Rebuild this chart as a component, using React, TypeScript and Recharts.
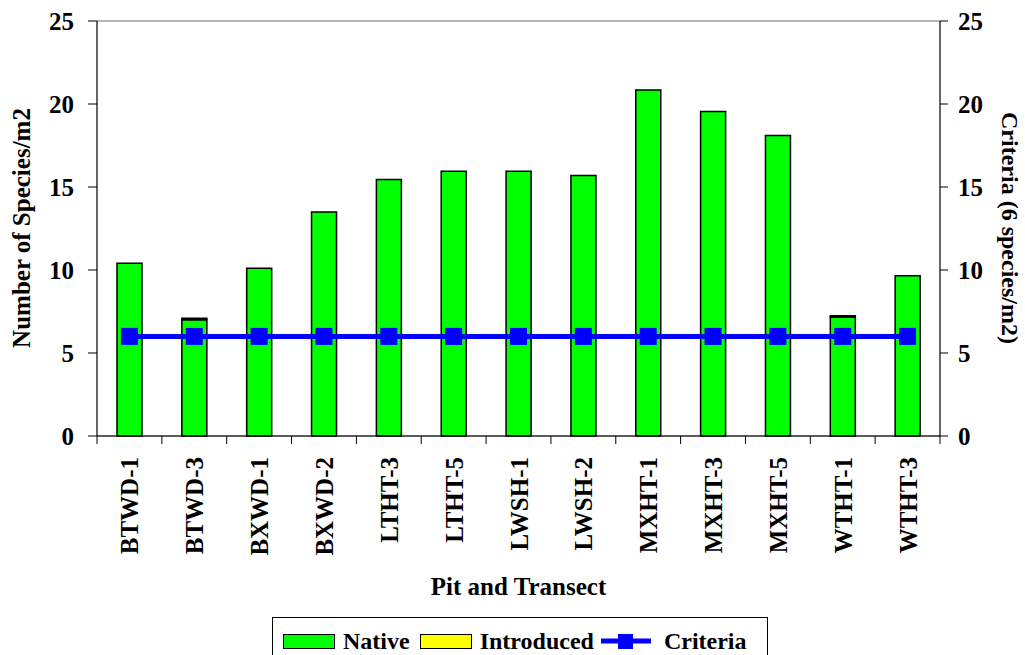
import React from 'react';
import {
  ComposedChart,
  Bar,
  Line,
  XAxis,
  YAxis,
  CartesianGrid,
} from 'recharts';

const categories = [
  'BTWD-1', 'BTWD-3', 'BXWD-1', 'BXWD-2', 'LTHT-3', 'LTHT-5', 'LWSH-1',
  'LWSH-2', 'MXHT-1', 'MXHT-3', 'MXHT-5', 'WTHT-1', 'WTHT-3',
];
const nativeValues = [10.4, 7.0, 10.1, 13.5, 15.45, 15.95, 15.95, 15.7, 20.85, 19.55, 18.1, 7.15, 9.65];
const introducedValues = [0, 0.1, 0, 0, 0, 0, 0, 0, 0, 0, 0, 0.1, 0];
const criteriaValues = [6, 6, 6, 6, 6, 6, 6, 6, 6, 6, 6, 6, 6];
const yTicks = [0, 5, 10, 15, 20, 25];

const FONT = '"Times New Roman", "Liberation Serif", serif';

const data = categories.map((name, i) => ({
  name,
  native: nativeValues[i],
  introduced: introducedValues[i],
  criteria: criteriaValues[i],
}));

const CHART_W = 1025;
const CHART_H = 655;
const LEFT_AXIS_W = 97;
const RIGHT_AXIS_W = 85;
const TOP = 21;
const X_AXIS_H = 219;
const plotW = CHART_W - LEFT_AXIS_W - RIGHT_AXIS_W;
const step = plotW / categories.length;

// rotated category label plus Excel style tick marks between categories
const CategoryTick = (props: any) => {
  const { x, y, payload, index } = props;
  const last = index === categories.length - 1;
  return (
    <g>
      <line x1={x - step / 2} y1={y - 8} x2={x - step / 2} y2={y} stroke="#000" />
      {last && <line x1={x + step / 2} y1={y - 8} x2={x + step / 2} y2={y} stroke="#000" />}
      <text
        x={x + 9}
        y={y + 13}
        transform={`rotate(-90, ${x + 9}, ${y + 13})`}
        textAnchor="end"
        fontFamily={FONT}
        fontWeight="bold"
        fontSize={25}
        fill="#000"
      >
        {payload.value}
      </text>
    </g>
  );
};

const SquareDot = (props: any) => {
  const { cx, cy } = props;
  if (cx == null || cy == null) return null;
  return <rect x={cx - 8.5} y={cy - 8.5} width={17} height={17} fill="#0000FF" />;
};

const LegendBox = () => (
  <div
    style={{
      position: 'absolute',
      left: 272,
      top: 617,
      width: 496,
      height: 44,
      border: '1px solid #000',
      boxSizing: 'border-box',
      fontFamily: FONT,
      fontWeight: 'bold',
      fontSize: 24,
      display: 'flex',
      alignItems: 'center',
      paddingLeft: 10,
      paddingTop: 4,
      background: '#fff',
    }}
  >
    <span style={{ display: 'inline-block', width: 50, height: 13, background: '#00FF00', border: '1.5px solid #000' }} />
    <span style={{ marginLeft: 8, marginRight: 10 }}>Native</span>
    <span style={{ display: 'inline-block', width: 50, height: 13, background: '#FFFF00', border: '1.5px solid #000' }} />
    <span style={{ marginLeft: 8, marginRight: 6 }}>Introduced</span>
    <svg width={52} height={20} style={{ display: 'inline-block' }}>
      <line x1={1} y1={10} x2={51} y2={10} stroke="#0000FF" strokeWidth={5} />
      <rect x={18} y={3} width={15} height={15} fill="#0000FF" />
    </svg>
    <span style={{ marginLeft: 12 }}>Criteria</span>
  </div>
);

export default function App() {
  const tickStyle = { fill: '#000', fontFamily: FONT, fontWeight: 'bold' as const, fontSize: 25 };
  return (
    <div style={{ position: 'absolute', left: 0, top: 0, width: CHART_W, height: CHART_H, background: '#fff', overflow: 'hidden' }}>
      <ComposedChart
        width={CHART_W}
        height={CHART_H}
        data={data}
        margin={{ top: TOP, right: 0, left: 0, bottom: 0 }}
        barSize={25}
      >
        <CartesianGrid vertical={false} stroke="#6e6e6e" strokeWidth={1.2} />
        <XAxis
          dataKey="name"
          height={X_AXIS_H}
          interval={0}
          axisLine={{ stroke: '#000', strokeWidth: 1.2 }}
          tickLine={false}
          tick={<CategoryTick />}
          label={{
            content: () => (
              <text x={LEFT_AXIS_W + plotW / 2} y={595} textAnchor="middle" fontFamily={FONT} fontWeight="bold" fontSize={25} fill="#000">
                Pit and Transect
              </text>
            ),
          }}
        />
        <YAxis
          yAxisId="left"
          width={LEFT_AXIS_W}
          domain={[0, 25]}
          ticks={yTicks}
          interval={0}
          tickSize={9}
          tickMargin={14}
          axisLine={{ stroke: '#000', strokeWidth: 1.2 }}
          tickLine={{ stroke: '#000' }}
          tick={tickStyle}
          label={{
            content: () => (
              <text
                x={30}
                y={228}
                transform="rotate(-90, 30, 228)"
                textAnchor="middle"
                fontFamily={FONT}
                fontWeight="bold"
                fontSize={25}
                fill="#000"
              >
                Number of Species/m2
              </text>
            ),
          }}
        />
        <YAxis
          yAxisId="right"
          orientation="right"
          width={RIGHT_AXIS_W}
          domain={[0, 25]}
          ticks={yTicks}
          interval={0}
          tickSize={8}
          tickMargin={10}
          axisLine={{ stroke: '#000', strokeWidth: 1.2 }}
          tickLine={{ stroke: '#000' }}
          tick={tickStyle}
          label={{
            content: () => (
              <text
                x={1002}
                y={228}
                transform="rotate(90, 1002, 228)"
                textAnchor="middle"
                fontFamily={FONT}
                fontWeight="bold"
                fontSize={24}
                fill="#000"
              >
                Criteria (6 species/m2)
              </text>
            ),
          }}
        />
        <Bar yAxisId="left" dataKey="native" stackId="s" fill="#00FF00" stroke="#000" strokeWidth={1.5} isAnimationActive={false} />
        <Bar yAxisId="left" dataKey="introduced" stackId="s" fill="#FFFF00" stroke="#000" strokeWidth={1.5} isAnimationActive={false} />
        <Line
          yAxisId="right"
          dataKey="criteria"
          stroke="#0000FF"
          strokeWidth={5}
          dot={<SquareDot />}
          activeDot={false}
          isAnimationActive={false}
        />
      </ComposedChart>
      <LegendBox />
    </div>
  );
}
